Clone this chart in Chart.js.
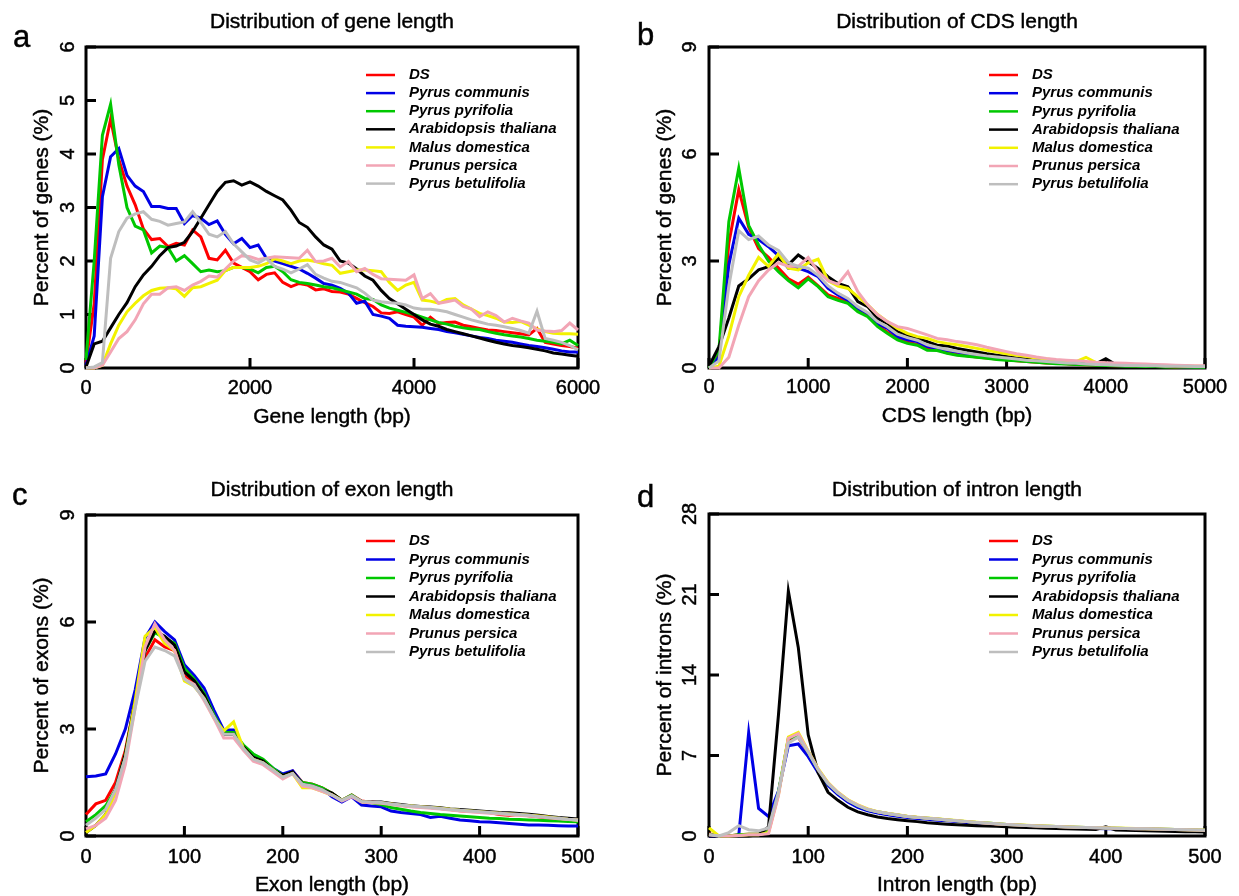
<!DOCTYPE html>
<html>
<head>
<meta charset="utf-8">
<title>Distribution of gene, CDS, exon and intron length</title>
<script src="https://cdn.jsdelivr.net/npm/chart.js@4.4.1/dist/chart.umd.min.js"></script>
<style>
  html, body { margin: 0; padding: 0; background: #fff; }
  #wrap { position: relative; width: 1239px; height: 896px; overflow: hidden; background: #fff; }
  #wrap canvas { position: absolute; }
</style>
</head>
<body>
<div id="wrap">
  <canvas id="geneChart" width="620" height="448" style="left:0;top:0"></canvas>
  <canvas id="cdsChart" width="620" height="448" style="left:620px;top:0"></canvas>
  <canvas id="exonChart" width="620" height="448" style="left:0;top:448px"></canvas>
  <canvas id="intronChart" width="620" height="448" style="left:620px;top:448px"></canvas>
</div>
<script>
// ── Species & colours ─────────────────────────────
const species = ['DS', 'Pyrus communis', 'Pyrus pyrifolia', 'Arabidopsis thaliana',
  'Malus domestica', 'Prunus persica', 'Pyrus betulifolia'];
const speciesColors = ['#ff0000', '#0000e6', '#00c800', '#000000', '#f2f200', '#f2a5b5', '#bebebe'];

// ── a: gene length (bp) ───────────────────────────
const geneLength = [0, 100, 200, 300, 400, 500, 600, 700, 800, 900, 1000, 1100, 1200, 1300, 1400, 1500,
  1600, 1700, 1800, 1900, 2000, 2100, 2200, 2300, 2400, 2500, 2600, 2700, 2800, 2900, 3000, 3100, 3200,
  3300, 3400, 3500, 3600, 3700, 3800, 3900, 4000, 4100, 4200, 4300, 4400, 4500, 4600, 4700, 4800, 4900,
  5000, 5100, 5200, 5300, 5400, 5500, 5600, 5700, 5800, 5900, 6000];
const geneDS = [0.1, 1.2, 3.9, 4.65, 3.9, 3.4, 3.05, 2.6, 2.4, 2.42, 2.27, 2.33, 2.3, 2.58, 2.45, 2.05, 2.02,
  2.2, 1.96, 1.88, 1.8, 1.65, 1.75, 1.78, 1.6, 1.52, 1.58, 1.55, 1.46, 1.48, 1.43, 1.42, 1.38, 1.3, 1.22,
  1.15, 1.03, 1.02, 1.05, 1.0, 0.95, 0.8, 0.95, 0.83, 0.85, 0.86, 0.8, 0.77, 0.74, 0.71, 0.7, 0.68, 0.66,
  0.64, 0.62, 0.74, 0.48, 0.45, 0.42, 0.4, 0.37];
const geneCommunis = [0.05, 0.6, 3.2, 3.95, 4.1, 3.6, 3.4, 3.3, 3.02, 3.02, 2.98, 2.98, 2.7, 2.85, 2.8, 2.68,
  2.75, 2.5, 2.32, 2.42, 2.25, 2.3, 2.05, 2.0, 1.95, 1.9, 1.85, 1.77, 1.68, 1.58, 1.55, 1.49, 1.4, 1.21,
  1.25, 1.0, 0.97, 0.93, 0.8, 0.78, 0.77, 0.76, 0.74, 0.72, 0.68, 0.66, 0.63, 0.6, 0.57, 0.55, 0.52, 0.5,
  0.48, 0.45, 0.42, 0.4, 0.38, 0.35, 0.32, 0.3, 0.3];
const genePyrifolia = [0.15, 2.0, 4.35, 4.93, 3.8, 3.0, 2.65, 2.58, 2.15, 2.28, 2.25, 2.0, 2.1, 1.95, 1.8,
  1.83, 1.8, 1.82, 1.88, 1.88, 1.85, 1.78, 1.88, 1.9, 1.8, 1.65, 1.6, 1.58, 1.55, 1.52, 1.5, 1.46, 1.42,
  1.38, 1.3, 1.28, 1.18, 1.12, 1.08, 1.04, 1.0, 0.95, 0.9, 0.85, 0.82, 0.78, 0.75, 0.73, 0.72, 0.68, 0.65,
  0.62, 0.6, 0.58, 0.55, 0.52, 0.5, 0.48, 0.45, 0.52, 0.42];
const geneThaliana = [0.02, 0.45, 0.5, 0.75, 1.0, 1.22, 1.52, 1.74, 1.9, 2.1, 2.25, 2.28, 2.35, 2.55, 2.8,
  3.05, 3.3, 3.47, 3.5, 3.42, 3.48, 3.4, 3.3, 3.22, 3.14, 2.95, 2.72, 2.63, 2.45, 2.3, 2.22, 2.0, 1.96,
  1.85, 1.72, 1.64, 1.45, 1.3, 1.2, 1.1, 1.0, 0.9, 0.82, 0.78, 0.72, 0.68, 0.64, 0.6, 0.56, 0.52, 0.48,
  0.45, 0.42, 0.4, 0.38, 0.35, 0.32, 0.28, 0.26, 0.24, 0.22];
const geneDomestica = [0, 0, 0.05, 0.45, 0.8, 1.05, 1.21, 1.35, 1.45, 1.49, 1.5, 1.48, 1.34, 1.5, 1.52, 1.58,
  1.64, 1.82, 1.88, 1.88, 1.88, 1.9, 1.95, 2.04, 2.0, 1.95, 2.0, 2.02, 1.99, 1.95, 1.92, 1.77, 1.8, 1.83,
  1.83, 1.82, 1.8, 1.6, 1.45, 1.55, 1.6, 1.27, 1.25, 1.21, 1.28, 1.3, 1.18, 1.1, 1.02, 0.98, 0.93, 0.86,
  0.85, 0.87, 0.8, 0.73, 0.68, 0.65, 0.64, 0.64, 0.63];
const genePersica = [0, 0, 0.05, 0.3, 0.55, 0.68, 0.9, 1.2, 1.38, 1.38, 1.5, 1.52, 1.45, 1.55, 1.62, 1.72,
  1.7, 1.85, 2.0, 2.1, 2.08, 2.03, 2.05, 2.08, 2.07, 2.06, 2.05, 2.2, 1.99, 2.0, 2.05, 1.89, 1.99, 1.8,
  1.86, 1.75, 1.67, 1.66, 1.65, 1.64, 1.74, 1.3, 1.39, 1.21, 1.24, 1.27, 1.15, 1.1, 0.96, 1.05, 0.98,
  0.86, 0.93, 0.88, 0.84, 0.71, 0.69, 0.68, 0.7, 0.84, 0.71];
const geneBetulifolia = [0, 0.02, 0.1, 2.05, 2.55, 2.8, 2.88, 2.92, 2.78, 2.74, 2.67, 2.7, 2.73, 2.92, 2.72,
  2.5, 2.45, 2.55, 2.32, 2.17, 2.02, 1.96, 2.05, 1.9, 1.85, 1.78, 1.85, 1.93, 1.75, 1.68, 1.62, 1.6, 1.55,
  1.5, 1.4, 1.27, 1.24, 1.22, 1.21, 1.18, 1.12, 1.1, 1.1, 1.08, 1.05, 1.0, 0.95, 0.9, 0.86, 0.82, 0.8,
  0.77, 0.74, 0.7, 0.65, 1.06, 0.55, 0.52, 0.48, 0.42, 0.34];
const geneTicksX = [0, 2000, 4000, 6000];
const geneTicksY = [0, 1, 2, 3, 4, 5, 6];

// ── b: CDS length (bp) ────────────────────────────
const cdsLength = [0, 100, 200, 300, 400, 500, 600, 700, 800, 900, 1000, 1100, 1200, 1300, 1400, 1500,
  1600, 1700, 1800, 1900, 2000, 2100, 2200, 2300, 2400, 2500, 2600, 2700, 2800, 2900, 3000, 3100, 3200,
  3300, 3400, 3500, 3600, 3700, 3800, 3900, 4000, 4100, 4200, 4300, 4400, 4500, 4600, 4700, 4800, 4900, 5000];
const cdsDS = [0, 0.4, 3.5, 5.0, 3.95, 3.35, 3.1, 2.8, 2.5, 2.35, 2.55, 2.3, 2.05, 1.95, 1.85, 1.62, 1.47,
  1.2, 1.0, 0.82, 0.72, 0.66, 0.53, 0.51, 0.43, 0.38, 0.34, 0.31, 0.28, 0.25, 0.23, 0.2, 0.18, 0.16, 0.14,
  0.13, 0.12, 0.1, 0.09, 0.08, 0.07, 0.06, 0.06, 0.05, 0.05, 0.04, 0.04, 0.03, 0.03, 0.03, 0.02];
const cdsCommunis = [0, 0.3, 2.9, 4.2, 3.75, 3.6, 3.4, 3.15, 2.8, 2.8, 2.7, 2.56, 2.23, 2.05, 1.9, 1.67,
  1.53, 1.25, 1.11, 0.88, 0.79, 0.74, 0.6, 0.55, 0.49, 0.45, 0.4, 0.36, 0.32, 0.29, 0.26, 0.23, 0.21,
  0.19, 0.17, 0.15, 0.13, 0.12, 0.1, 0.09, 0.08, 0.07, 0.06, 0.06, 0.05, 0.05, 0.04, 0.04, 0.03, 0.03, 0.03];
const cdsPyrifolia = [0, 0.5, 4.1, 5.6, 4.0, 3.45, 3.0, 2.7, 2.45, 2.25, 2.5, 2.28, 2.0, 1.9, 1.81, 1.58,
  1.44, 1.16, 0.97, 0.79, 0.69, 0.64, 0.5, 0.49, 0.41, 0.36, 0.33, 0.3, 0.27, 0.24, 0.22, 0.2, 0.18, 0.16,
  0.14, 0.12, 0.11, 0.1, 0.09, 0.08, 0.07, 0.06, 0.05, 0.05, 0.04, 0.04, 0.03, 0.03, 0.03, 0.02, 0.02];
const cdsThaliana = [0.05, 0.6, 1.4, 2.3, 2.5, 2.75, 2.84, 3.07, 2.89, 3.17, 2.98, 2.79, 2.56, 2.37, 2.28,
  1.86, 1.72, 1.39, 1.25, 1.02, 0.93, 0.83, 0.74, 0.64, 0.62, 0.55, 0.5, 0.45, 0.4, 0.36, 0.32, 0.28, 0.25,
  0.22, 0.2, 0.18, 0.16, 0.14, 0.13, 0.12, 0.26, 0.1, 0.09, 0.08, 0.07, 0.06, 0.06, 0.05, 0.05, 0.04, 0.04];
const cdsDomestica = [0, 0.05, 0.9, 2.0, 2.6, 3.1, 2.85, 3.2, 2.8, 2.75, 2.95, 3.05, 2.45, 2.3, 2.23, 2.0,
  1.77, 1.5, 1.3, 1.11, 0.97, 0.88, 0.83, 0.74, 0.69, 0.65, 0.6, 0.55, 0.5, 0.45, 0.4, 0.36, 0.32, 0.28,
  0.25, 0.22, 0.2, 0.18, 0.3, 0.15, 0.13, 0.12, 0.1, 0.09, 0.08, 0.07, 0.06, 0.06, 0.05, 0.05, 0.04];
const cdsPersica = [0, 0, 0.3, 1.2, 2.0, 2.45, 2.75, 2.95, 2.85, 2.85, 3.1, 2.7, 2.45, 2.35, 2.7, 2.14,
  1.77, 1.49, 1.3, 1.16, 1.11, 1.02, 0.93, 0.83, 0.79, 0.74, 0.7, 0.65, 0.58, 0.52, 0.46, 0.4, 0.36, 0.31,
  0.27, 0.24, 0.22, 0.2, 0.18, 0.16, 0.15, 0.14, 0.13, 0.12, 0.11, 0.1, 0.09, 0.08, 0.07, 0.06, 0.06];
const cdsBetulifolia = [0, 0.2, 2.3, 3.85, 3.6, 3.7, 3.45, 3.3, 2.95, 2.85, 2.8, 2.6, 2.3, 2.1, 1.95, 1.72,
  1.55, 1.3, 1.15, 0.95, 0.85, 0.78, 0.65, 0.58, 0.52, 0.47, 0.42, 0.38, 0.34, 0.31, 0.28, 0.25, 0.22,
  0.2, 0.18, 0.16, 0.14, 0.13, 0.11, 0.1, 0.09, 0.08, 0.07, 0.07, 0.06, 0.06, 0.05, 0.05, 0.05, 0.04, 0.04];
const cdsTicksX = [0, 1000, 2000, 3000, 4000, 5000];
const cdsTicksY = [0, 3, 6, 9];

// ── c: exon length (bp) ───────────────────────────
const exonLength = [0, 10, 20, 30, 40, 50, 60, 70, 80, 90, 100, 110, 120, 130, 140, 150, 160, 170, 180,
  190, 200, 210, 220, 230, 240, 250, 260, 270, 280, 290, 300, 310, 320, 330, 340, 350, 360, 370, 380,
  390, 400, 410, 420, 430, 440, 450, 460, 470, 480, 490, 500];
const exonDS = [0.6, 0.9, 1.0, 1.5, 2.4, 3.8, 5.0, 5.5, 5.3, 5.2, 4.5, 4.3, 3.9, 3.4, 2.85, 2.9, 2.5, 2.2,
  2.05, 1.85, 1.7, 1.82, 1.5, 1.45, 1.35, 1.2, 1.0, 1.15, 0.98, 0.95, 0.93, 0.9, 0.86, 0.83, 0.82, 0.8,
  0.77, 0.74, 0.71, 0.69, 0.68, 0.66, 0.6, 0.58, 0.6, 0.57, 0.54, 0.5, 0.48, 0.46, 0.45];
const exonCommunis = [1.66, 1.68, 1.74, 2.3, 3.0, 4.1, 5.55, 6.0, 5.73, 5.5, 4.8, 4.5, 4.15, 3.53, 2.97,
  2.97, 2.46, 2.22, 2.13, 1.9, 1.74, 1.83, 1.48, 1.43, 1.34, 1.1, 0.95, 1.1, 0.87, 0.84, 0.82, 0.7, 0.66,
  0.63, 0.6, 0.52, 0.55, 0.5, 0.45, 0.43, 0.4, 0.39, 0.37, 0.35, 0.33, 0.31, 0.31, 0.3, 0.29, 0.28, 0.28];
const exonPyrifolia = [0.4, 0.6, 0.85, 1.3, 2.3, 3.8, 5.2, 5.7, 5.55, 5.4, 4.7, 4.4, 4.0, 3.4, 2.9, 2.9,
  2.55, 2.3, 2.15, 1.9, 1.7, 1.75, 1.5, 1.45, 1.35, 1.2, 1.0, 1.15, 0.97, 0.93, 0.88, 0.8, 0.75, 0.7,
  0.66, 0.63, 0.6, 0.58, 0.56, 0.54, 0.52, 0.5, 0.49, 0.47, 0.46, 0.45, 0.44, 0.43, 0.42, 0.41, 0.4];
const exonThaliana = [0.1, 0.3, 0.6, 1.3, 2.3, 3.8, 5.2, 5.75, 5.6, 5.35, 4.6, 4.35, 3.95, 3.35, 2.85,
  2.85, 2.5, 2.2, 2.1, 1.85, 1.7, 1.8, 1.45, 1.4, 1.3, 1.2, 1.0, 1.12, 0.97, 0.95, 0.95, 0.91, 0.88, 0.85,
  0.83, 0.81, 0.79, 0.76, 0.74, 0.72, 0.7, 0.68, 0.66, 0.65, 0.63, 0.61, 0.58, 0.55, 0.52, 0.5, 0.48];
const exonDomestica = [0.1, 0.3, 0.6, 1.2, 2.2, 3.8, 5.6, 5.85, 5.4, 5.2, 4.35, 4.2, 3.85, 3.3, 2.95, 3.2,
  2.45, 2.15, 2.05, 1.85, 1.65, 1.75, 1.35, 1.35, 1.25, 1.15, 1.0, 1.12, 0.96, 0.94, 0.93, 0.9, 0.86,
  0.84, 0.82, 0.8, 0.78, 0.75, 0.72, 0.7, 0.68, 0.66, 0.64, 0.62, 0.6, 0.58, 0.56, 0.53, 0.5, 0.47, 0.45];
const exonPersica = [0.2, 0.3, 0.5, 1.0, 2.0, 3.6, 5.3, 5.95, 5.5, 5.2, 4.4, 4.25, 3.8, 3.3, 2.75, 2.75,
  2.4, 2.1, 2.0, 1.8, 1.6, 1.75, 1.4, 1.35, 1.25, 1.15, 0.98, 1.1, 0.95, 0.93, 0.92, 0.88, 0.85, 0.82,
  0.8, 0.78, 0.76, 0.73, 0.7, 0.68, 0.66, 0.64, 0.62, 0.6, 0.58, 0.56, 0.54, 0.51, 0.48, 0.46, 0.44];
const exonBetulifolia = [0.3, 0.5, 0.75, 1.3, 2.2, 3.6, 4.9, 5.3, 5.2, 5.05, 4.4, 4.2, 3.85, 3.35, 2.85,
  2.85, 2.45, 2.15, 2.05, 1.85, 1.65, 1.75, 1.45, 1.4, 1.3, 1.15, 1.0, 1.13, 0.97, 0.95, 0.94, 0.9, 0.87,
  0.84, 0.82, 0.8, 0.77, 0.74, 0.72, 0.7, 0.68, 0.66, 0.64, 0.62, 0.6, 0.58, 0.55, 0.52, 0.5, 0.47, 0.45];
const exonTicksX = [0, 100, 200, 300, 400, 500];
const exonTicksY = [0, 3, 6, 9];

// ── d: intron length (bp) ─────────────────────────
const intronLength = [0, 10, 20, 30, 40, 50, 60, 70, 80, 90, 100, 110, 120, 130, 140, 150, 160, 170, 180,
  190, 200, 210, 220, 230, 240, 250, 260, 270, 280, 290, 300, 310, 320, 330, 340, 350, 360, 370, 380,
  390, 400, 410, 420, 430, 440, 450, 460, 470, 480, 490, 500];
const intronDS = [0.2, 0, 0, 0.1, 0.15, 0.15, 0.4, 3.7, 8.4, 8.6, 7.2, 5.7, 4.5, 3.7, 3.1, 2.6, 2.28, 2.06,
  1.9, 1.8, 1.68, 1.6, 1.52, 1.45, 1.38, 1.3, 1.22, 1.15, 1.08, 1.02, 0.97, 0.93, 0.9, 0.86, 0.83, 0.8,
  0.77, 0.74, 0.72, 0.7, 0.68, 0.66, 0.64, 0.62, 0.6, 0.58, 0.56, 0.54, 0.52, 0.5, 0.48];
const intronCommunis = [0, 0, 0, 0.05, 9.0, 2.4, 1.7, 3.9, 7.85, 8.0, 6.9, 5.5, 4.4, 3.6, 2.95, 2.5, 2.2,
  2.0, 1.85, 1.72, 1.6, 1.52, 1.45, 1.38, 1.32, 1.25, 1.18, 1.1, 1.04, 0.98, 0.93, 0.89, 0.85, 0.82, 0.79,
  0.76, 0.73, 0.7, 0.68, 0.66, 0.64, 0.62, 0.6, 0.58, 0.56, 0.54, 0.52, 0.5, 0.48, 0.46, 0.44];
const intronPyrifolia = [0.15, 0, 0, 0.1, 0.15, 0.15, 0.4, 3.8, 8.5, 8.75, 7.3, 5.75, 4.55, 3.75, 3.1, 2.65,
  2.3, 2.1, 1.95, 1.82, 1.7, 1.62, 1.55, 1.48, 1.4, 1.33, 1.25, 1.18, 1.12, 1.06, 1.0, 0.96, 0.92, 0.88,
  0.85, 0.82, 0.79, 0.76, 0.74, 0.72, 0.7, 0.68, 0.66, 0.64, 0.62, 0.6, 0.58, 0.56, 0.54, 0.52, 0.5];
const intronThaliana = [0, 0, 0, 0, 0, 0.1, 0.8, 10.5, 21.3, 16.4, 8.8, 5.5, 3.8, 3.1, 2.5, 2.1, 1.85, 1.65,
  1.52, 1.42, 1.33, 1.25, 1.15, 1.08, 1.02, 0.97, 0.93, 0.9, 0.87, 0.84, 0.8, 0.77, 0.74, 0.71, 0.68,
  0.66, 0.63, 0.6, 0.58, 0.56, 0.8, 0.52, 0.5, 0.48, 0.46, 0.44, 0.42, 0.4, 0.38, 0.36, 0.34];
const intronDomestica = [0.7, 0, 0, 0.05, 0.1, 0.1, 0.3, 3.6, 8.6, 9.0, 7.4, 5.85, 4.65, 3.8, 3.15, 2.7,
  2.35, 2.12, 1.97, 1.85, 1.72, 1.64, 1.56, 1.49, 1.42, 1.35, 1.27, 1.2, 1.13, 1.07, 1.01, 0.97, 0.93,
  0.89, 0.86, 0.83, 0.8, 0.77, 0.75, 0.73, 0.71, 0.69, 0.67, 0.65, 0.63, 0.61, 0.59, 0.57, 0.55, 0.53, 0.51];
const intronPersica = [0.1, 0, 0, 0.05, 0.1, 0.1, 0.2, 3.5, 8.5, 8.9, 7.35, 5.8, 4.6, 3.78, 3.12, 2.68,
  2.32, 2.1, 1.95, 1.83, 1.7, 1.62, 1.54, 1.47, 1.4, 1.33, 1.25, 1.18, 1.11, 1.05, 1.0, 0.96, 0.92, 0.88,
  0.85, 0.82, 0.79, 0.76, 0.74, 0.72, 0.7, 0.68, 0.66, 0.64, 0.62, 0.6, 0.58, 0.56, 0.54, 0.52, 0.5];
const intronBetulifolia = [0.1, 0, 0.3, 0.9, 0.55, 0.45, 0.7, 3.8, 8.1, 8.6, 7.3, 5.75, 4.55, 3.75, 3.1,
  2.65, 2.3, 2.1, 1.95, 1.82, 1.7, 1.62, 1.55, 1.48, 1.4, 1.33, 1.25, 1.18, 1.12, 1.06, 1.0, 0.96, 0.92,
  0.88, 0.85, 0.82, 0.79, 0.76, 0.74, 0.72, 0.7, 0.68, 0.66, 0.64, 0.62, 0.6, 0.58, 0.56, 0.54, 0.52, 0.5];
const intronTicksX = [0, 100, 200, 300, 400, 500];
const intronTicksY = [0, 7, 14, 21, 28];

const FONT = '"Liberation Sans", Arial, Helvetica, sans-serif';

// text with a hairline stroke, to get the heavier look of the original
function heavyText(ctx, text, x, y) {
  ctx.fillText(text, x, y);
  ctx.strokeText(text, x, y);
}

// ── Frame, inward ticks, labels, titles (R-style) ─
const rFrame = {
  id: 'rFrame',
  beforeDatasetsDraw(chart, args, o) {
    const { ctx, chartArea: a } = chart;
    const sx = chart.scales.x, sy = chart.scales.y;
    ctx.save();
    ctx.strokeStyle = '#000';
    ctx.lineWidth = 3;
    ctx.strokeRect(a.left, a.top, a.right - a.left, a.bottom - a.top);
    ctx.beginPath();
    o.ticksX.forEach((v) => {
      const p = sx.getPixelForValue(v);
      ctx.moveTo(p, a.bottom); ctx.lineTo(p, a.bottom - 10);
    });
    o.ticksY.forEach((v) => {
      const p = sy.getPixelForValue(v);
      ctx.moveTo(a.left, p); ctx.lineTo(a.left + 10, p);
    });
    ctx.stroke();

    ctx.fillStyle = '#000';
    ctx.lineWidth = 0.45;
    ctx.textAlign = 'center';
    ctx.textBaseline = 'middle';
    ctx.font = '20px ' + FONT;
    o.ticksX.forEach((v) => heavyText(ctx, String(v), sx.getPixelForValue(v), o.tickLabelY));
    o.ticksY.forEach((v) => {
      ctx.save();
      ctx.translate(o.tickLabelX, sy.getPixelForValue(v));
      ctx.rotate(-Math.PI / 2);
      heavyText(ctx, String(v), 0, 0);
      ctx.restore();
    });

    ctx.font = '21px ' + FONT;
    const cx = (a.left + a.right) / 2;
    heavyText(ctx, o.xTitle, cx, o.xTitleY);
    heavyText(ctx, o.title, cx, o.titleY);
    ctx.save();
    ctx.translate(o.yTitleX, (a.top + a.bottom) / 2);
    ctx.rotate(-Math.PI / 2);
    heavyText(ctx, o.yTitle, 0, 0);
    ctx.restore();

    ctx.font = '31px ' + FONT;
    ctx.textAlign = 'left';
    ctx.textBaseline = 'alphabetic';
    heavyText(ctx, o.letter, o.letterX, o.letterY);
    ctx.restore();
  },
  afterDatasetsDraw(chart, args, o) {
    const ctx = chart.ctx;
    ctx.save();
    ctx.font = 'italic bold 15px ' + FONT;
    ctx.textAlign = 'left';
    ctx.textBaseline = 'middle';
    chart.data.datasets.forEach((ds, i) => {
      const y = o.legendY + i * o.legendDy;
      ctx.strokeStyle = ds.borderColor;
      ctx.lineWidth = 2.5;
      ctx.beginPath();
      ctx.moveTo(o.legendX, y);
      ctx.lineTo(o.legendX + 29, y);
      ctx.stroke();
      ctx.fillStyle = '#000';
      ctx.fillText(ds.label, o.legendX + 43, y);
    });
    ctx.restore();
  },
};

function renderPanel(canvasId, xs, seriesList, p) {
  const canvas = document.getElementById(canvasId);
  new Chart(canvas.getContext('2d'), {
    type: 'line',
    data: {
      datasets: seriesList.map((ys, i) => ({
        label: species[i],
        data: xs.map((x, j) => ({ x, y: ys[j] })),
        borderColor: speciesColors[i],
        borderWidth: 3,
        pointRadius: 0,
        tension: 0,
        fill: false,
        clip: false,
        order: seriesList.length - i,
      })),
    },
    options: {
      responsive: false,
      animation: false,
      devicePixelRatio: 1,
      layout: { padding: { left: p.area[0], top: p.area[1], right: 620 - p.area[2], bottom: 448 - p.area[3] } },
      scales: {
        x: { type: 'linear', display: false, min: 0, max: p.xMax },
        y: { type: 'linear', display: false, min: 0, max: p.yMax },
      },
      plugins: {
        legend: { display: false },
        tooltip: { enabled: false },
        rFrame: p.frame,
      },
    },
    plugins: [rFrame],
  });
}

renderPanel('geneChart', geneLength,
  [geneDS, geneCommunis, genePyrifolia, geneThaliana, geneDomestica, genePersica, geneBetulifolia],
  { area: [86, 47, 578, 368], xMax: 6000, yMax: 6,
    frame: { ticksX: geneTicksX, ticksY: geneTicksY, tickLabelY: 388, tickLabelX: 68,
      xTitle: 'Gene length (bp)', xTitleY: 417, yTitle: 'Percent of genes (%)', yTitleX: 42,
      title: 'Distribution of gene length', titleY: 22, letter: 'a', letterX: 13, letterY: 47,
      legendX: 366, legendY: 75, legendDy: 18.1 } });

renderPanel('cdsChart', cdsLength,
  [cdsDS, cdsCommunis, cdsPyrifolia, cdsThaliana, cdsDomestica, cdsPersica, cdsBetulifolia],
  { area: [89, 47, 585, 368], xMax: 5000, yMax: 9,
    frame: { ticksX: cdsTicksX, ticksY: cdsTicksY, tickLabelY: 387, tickLabelX: 70,
      xTitle: 'CDS length (bp)', xTitleY: 416, yTitle: 'Percent of genes (%)', yTitleX: 45,
      title: 'Distribution of CDS length', titleY: 22, letter: 'b', letterX: 17, letterY: 45,
      legendX: 369, legendY: 75, legendDy: 18.2 } });

renderPanel('exonChart', exonLength,
  [exonDS, exonCommunis, exonPyrifolia, exonThaliana, exonDomestica, exonPersica, exonBetulifolia],
  { area: [86, 67, 578, 388], xMax: 500, yMax: 9,
    frame: { ticksX: exonTicksX, ticksY: exonTicksY, tickLabelY: 409, tickLabelX: 68,
      xTitle: 'Exon length (bp)', xTitleY: 437, yTitle: 'Percent of exons (%)', yTitleX: 42,
      title: 'Distribution of exon length', titleY: 42, letter: 'c', letterX: 12, letterY: 57,
      legendX: 366, legendY: 93, legendDy: 18.5 } });

renderPanel('intronChart', intronLength,
  [intronDS, intronCommunis, intronPyrifolia, intronThaliana, intronDomestica, intronPersica, intronBetulifolia],
  { area: [89, 66, 585, 388], xMax: 500, yMax: 28,
    frame: { ticksX: intronTicksX, ticksY: intronTicksY, tickLabelY: 409, tickLabelX: 70,
      xTitle: 'Intron length (bp)', xTitleY: 437, yTitle: 'Percent of introns (%)', yTitleX: 45,
      title: 'Distribution of intron length', titleY: 42, letter: 'd', letterX: 17, letterY: 59,
      legendX: 369, legendY: 93, legendDy: 18.5 } });
</script>
</body>
</html>
